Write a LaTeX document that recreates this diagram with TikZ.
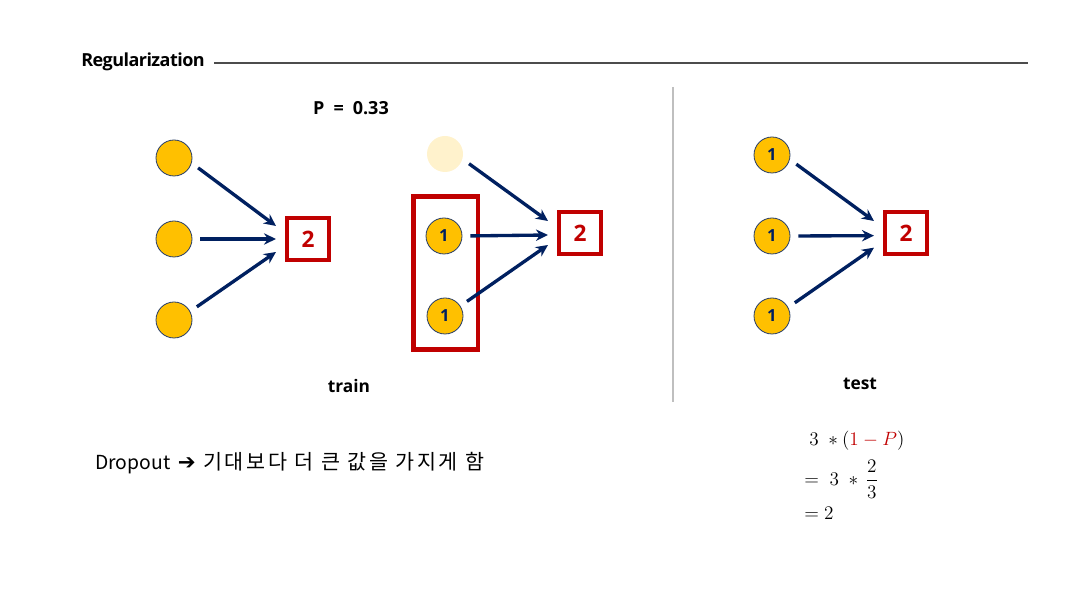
\documentclass[tikz,border=0pt]{standalone}
\usepackage{fontspec}
\setsansfont{Open Sans}
\newfontfamily\titlefont[LetterSpace=-3]{Open Sans}
\newfontfamily\krfont[LetterSpace=13]{Noto Sans CJK KR}
\newfontfamily\latinfont{Noto Sans CJK KR}
\newfontfamily\symfont{DejaVu Sans}
\usetikzlibrary{arrows.meta,positioning}
\definecolor{unityellow}{HTML}{FFC000}
\definecolor{dropyellow}{HTML}{FFF2CC}
\definecolor{linknavy}{HTML}{002060}
\definecolor{outred}{HTML}{C00000}

\begin{document}
\begin{tikzpicture}[
  x=0.75pt, y=-0.75pt,
  >={Stealth[length=9pt,width=8.5pt]},
  every node/.style={font=\sffamily},
  unit/.style={circle,draw=linknavy!70!gray,line width=0.6pt,fill=unityellow,minimum size=27pt,inner sep=0pt,text=linknavy,font=\sffamily\bfseries\fontsize{12.5}{12.5}\selectfont},
  dropped/.style={circle,fill=dropyellow,minimum size=27pt,inner sep=0pt},
  outbox/.style={draw=outred,line width=3pt,minimum size=31.5pt,inner sep=0pt,text=outred,font=\sffamily\bfseries\fontsize{17}{17}\selectfont},
  dropbox/.style={draw=outred,line width=3.4pt,minimum width=48.4pt,minimum height=114.75pt,inner sep=0pt},
  link/.style={->,draw=linknavy,line width=2.5pt,shorten <=6pt},
  caption/.style={inner sep=0pt,font=\sffamily\bfseries\fontsize{13}{13}\selectfont}
]
  \useasboundingbox (0,0) rectangle (1083,609);

  % header
  \node[anchor=west,inner sep=0pt,font=\titlefont\bfseries\fontsize{13.5}{13.5}\selectfont] (title) at (81,62) {Regularization};
  \coordinate (ruleend) at (1028,63);
  \draw[gray!60!black,line width=0.9pt] ([xshift=7pt]title.east |- ruleend) -- (ruleend);
  \coordinate (septop) at (673,87);
  \coordinate (sepbot) at (673,402);
  \draw[gray!50,line width=1pt] (septop) -- (sepbot);

  % train, all units
  \node[unit] (l1) at (174,158) {};
  \node[unit] (l2) at (174,239) {};
  \node[unit] (l3) at (174,320) {};
  \node[outbox] (lout) at (308,239) {2};
  \draw[link] (l1.-16) -- ([xshift=-6.75pt,yshift=9.75pt]lout.west);
  \draw[link] (l2.east) -- ([xshift=-6.75pt]lout.west);
  \draw[link] (l3.28) -- ([xshift=-6.75pt,yshift=-9.75pt]lout.west);

  % train, with dropout
  \node[caption,font=\sffamily\bfseries\fontsize{13.5}{13.5}\selectfont] (pval) at (351,108) {P\,\,\,=\,\,\,0.33};
  \node[dropped] (m0) at (445,154) {};
  \node[unit] (m1) at (444,236) {1};
  \node[unit] (m2) at (445,316) {1};
  \node[dropbox] (mbox) at (445.5,273) {};
  \node[outbox] (mout) at (580,233) {2};
  \draw[link] (m0.-16) -- ([xshift=-6.75pt,yshift=9pt]mout.west);
  \draw[link] (m1.east) -- ([xshift=-6.75pt,yshift=-1.5pt]mout.west);
  \draw[link] (m2.33) -- ([xshift=-6.75pt,yshift=-9pt]mout.west);
  \node[caption] (train) at (349,386) {train};

  % test
  \node[unit] (r1) at (772,155) {1};
  \node[unit] (r2) at (772,236) {1};
  \node[unit] (r3) at (772,316) {1};
  \node[outbox] (rout) at (906,233) {2};
  \draw[link] (r1.-14) -- ([xshift=-6.75pt,yshift=9pt]rout.west);
  \draw[link] (r2.east) -- ([xshift=-6.75pt,yshift=-2pt]rout.west);
  \draw[link] (r3.28) -- ([xshift=-6.75pt,yshift=-11pt]rout.west);
  \node[caption] (test) at (860,384) {test};

  % note and scaling
  \node[anchor=west,inner sep=0pt,font=\latinfont\fontsize{14.5}{14.5}\selectfont] (note) at (95,463)
    {Dropout\, {\symfont\bfseries\fontsize{16}{16}\selectfont ➔}\, {\krfont\fontsize{15.5}{15.5}\selectfont 기대보다 더 큰 값을 가지게 함}};
  \node[anchor=west,inner sep=0pt,font=\fontsize{14.5}{14.5}\selectfont] (eq1) at (809,441) {$3\;\ast(\textcolor{outred}{1-P})$};
  \node[anchor=west,inner sep=0pt,font=\fontsize{14.5}{14.5}\selectfont] (eq2) at (804,479) {$=\;3\;\ast\,\displaystyle\frac{2}{3}$};
  \node[anchor=west,inner sep=0pt,font=\fontsize{14.5}{14.5}\selectfont] (eq3) at (804,513) {$=2$};
\end{tikzpicture}
\end{document}
